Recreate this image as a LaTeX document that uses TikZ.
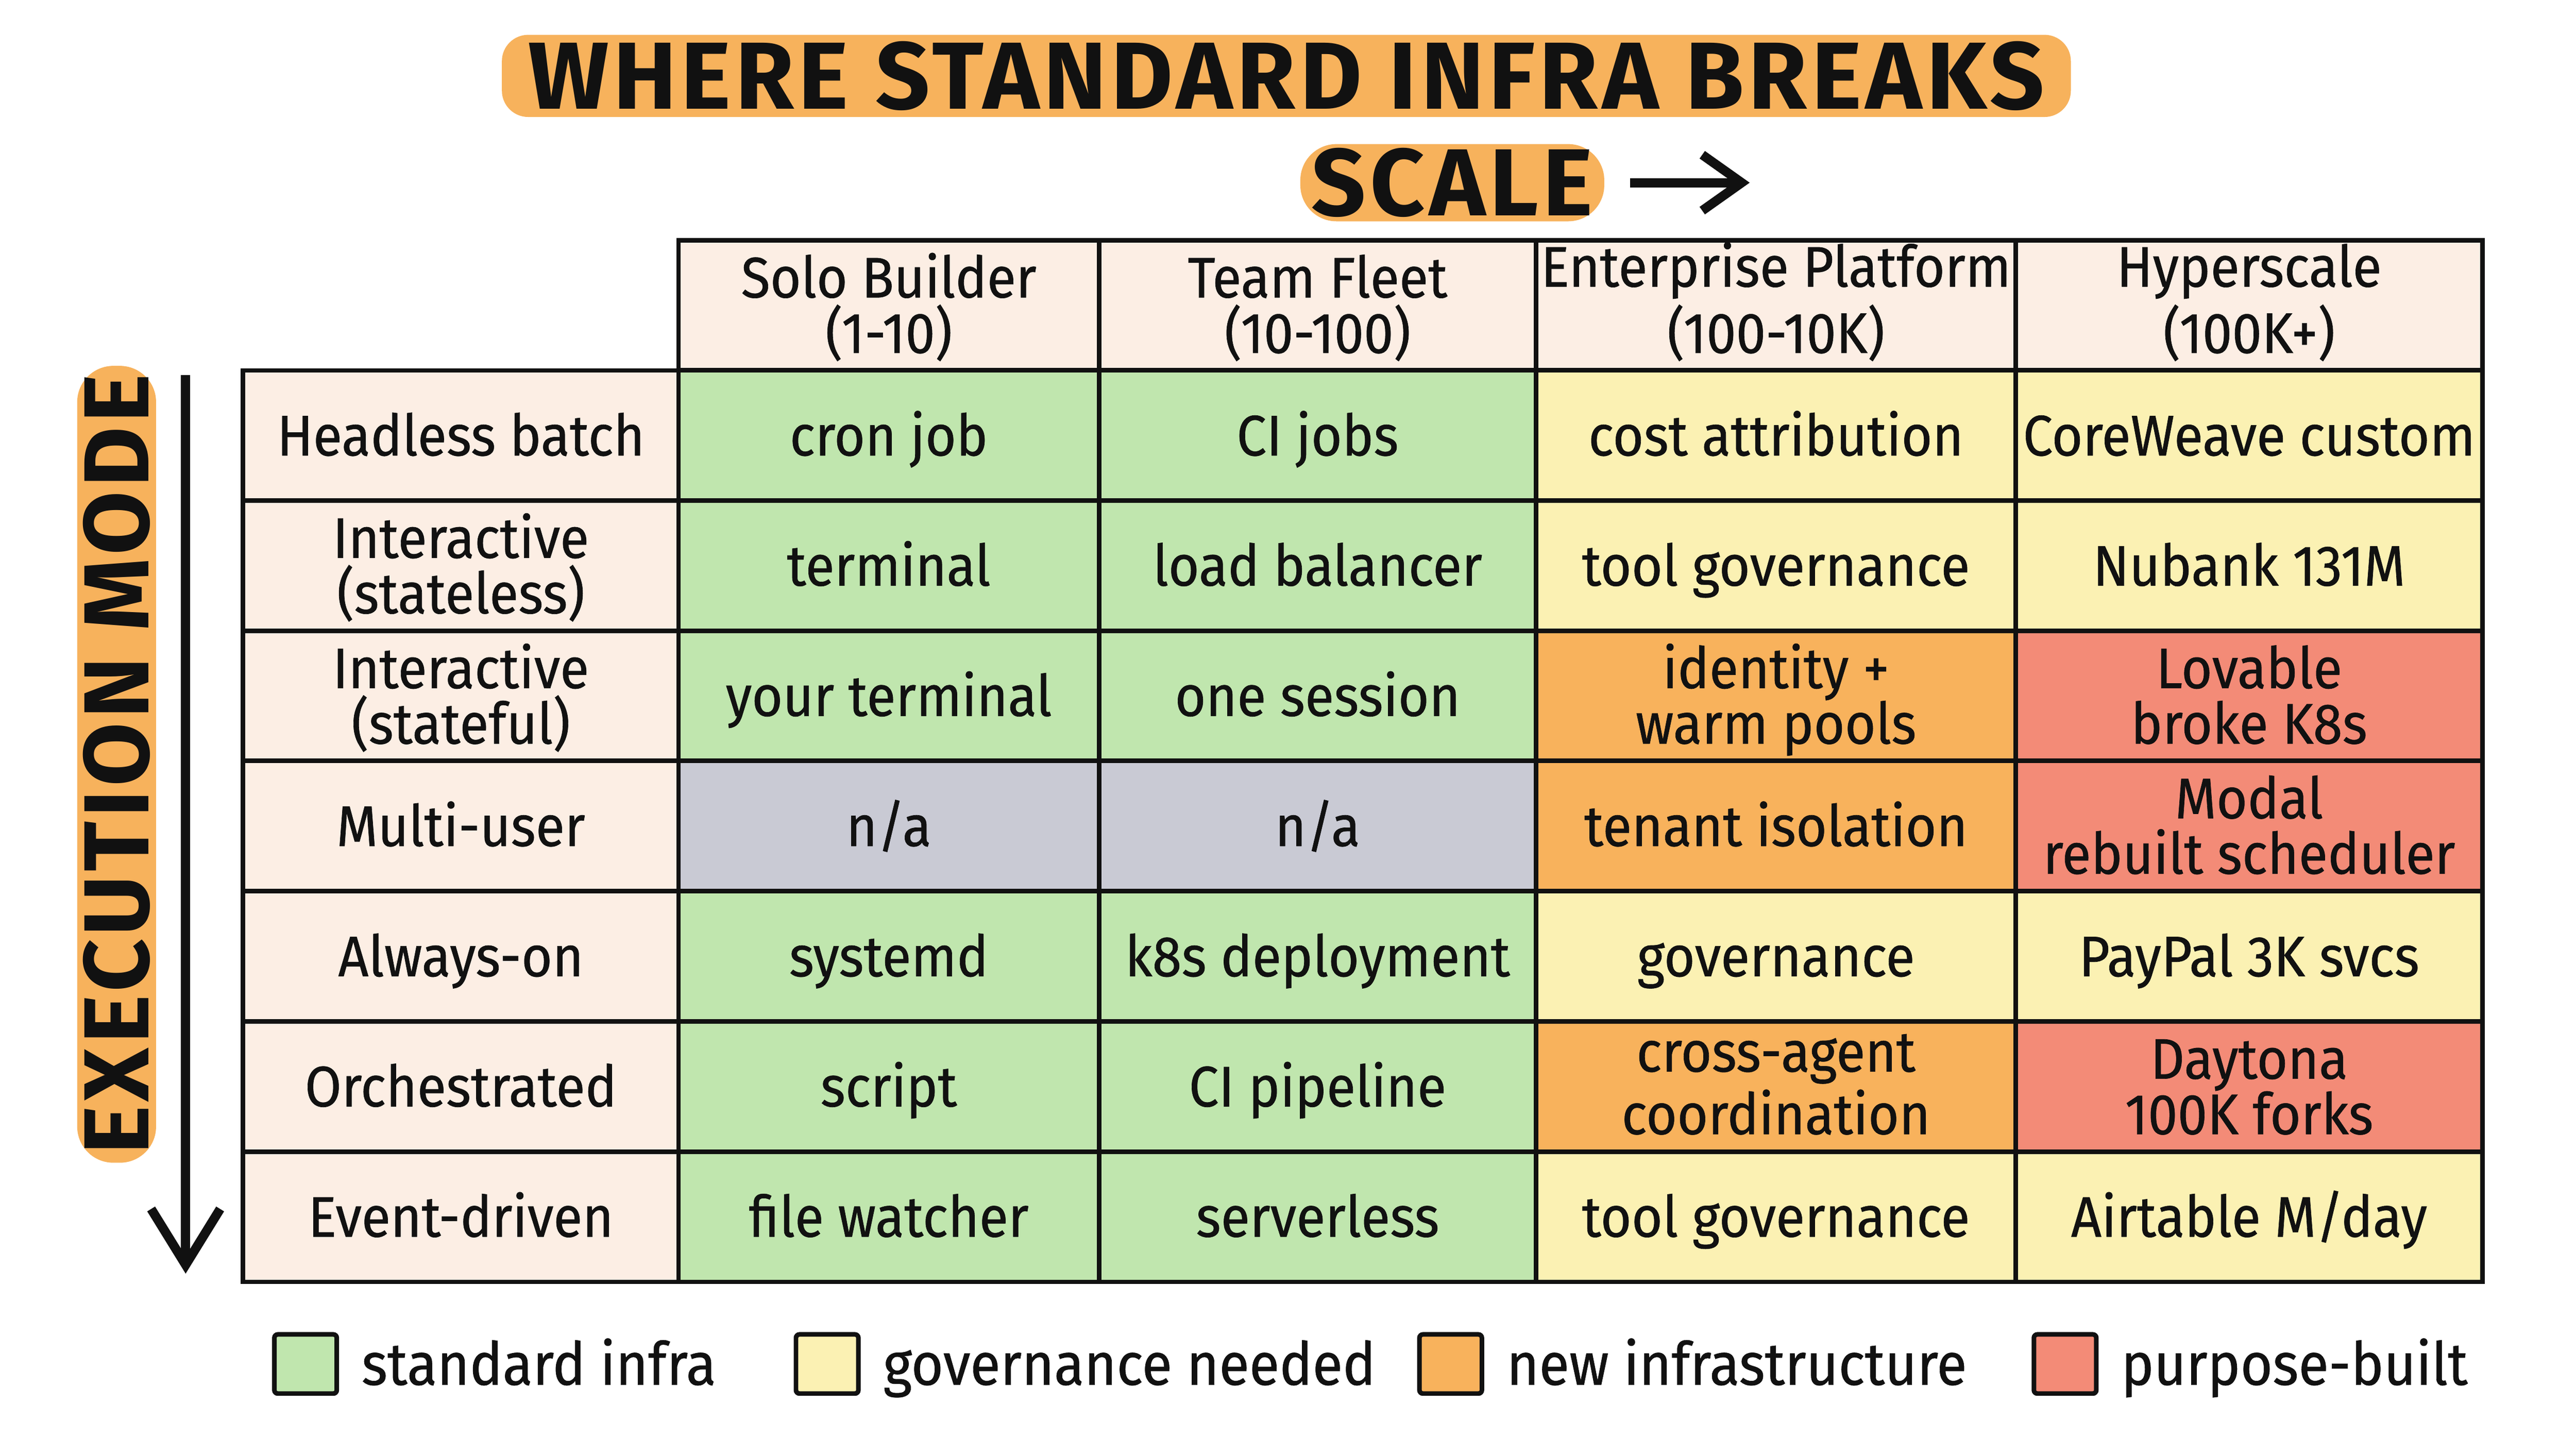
\documentclass[tikz,border=0pt]{standalone}
\usepackage{fontspec}
\setmainfont{Fira Sans}[FakeStretch=0.93, FakeBold=0.6]
\newfontfamily\bannerfont{Fira Sans}[LetterSpace=4.5]
\usepackage{tikz}
\usetikzlibrary{positioning, arrows.meta}

\definecolor{ink}{HTML}{111111}
\definecolor{peach}{HTML}{FCEEE4}
\definecolor{stdgreen}{HTML}{C0E6AE}
\definecolor{govyellow}{HTML}{FBF1B3}
\definecolor{neworange}{HTML}{F8B25C}
\definecolor{purpred}{HTML}{F38B77}
\definecolor{nagray}{HTML}{C9CAD4}
\definecolor{hl}{HTML}{F7B25C}

\newcommand{\cellfont}{\fontsize{9.9}{9.6}\selectfont}
\newcommand{\legfont}{\fontsize{10.3}{12}\selectfont}

\tikzset{
    cell/.style={draw=ink, line width=0.8pt, minimum height=0.7925cm, inner sep=0pt, align=center, font=\cellfont, text=ink, text height=6.9pt, text depth=0pt},
    twoline/.style={text height=16.5pt},
    mode/.style={minimum width=2.65cm},
    solo/.style={minimum width=2.56cm},
    team/.style={minimum width=2.66cm},
    ent/.style={minimum width=2.92cm},
    hyper/.style={minimum width=2.84cm},
    head/.style={cell, fill=peach},
    std/.style={cell, fill=stdgreen},
    gov/.style={cell, fill=govyellow},
    newinf/.style={cell, fill=neworange},
    purp/.style={cell, fill=purpred},
    na/.style={cell, fill=nagray},
    banner/.style={fill=hl, rounded corners=1.6mm, inner sep=0pt, text=ink, font=\bannerfont\bfseries\fontsize{16.5}{18}\selectfont},
    legbox/.style={draw=ink, line width=0.8pt, rounded corners=0.6pt, minimum width=0.38cm, minimum height=0.36cm, inner sep=0pt},
    legtext/.style={font=\legfont, text=ink, inner sep=0pt, anchor=west, text height=7.2pt, text depth=0pt},
    bigarrow/.style={line width=1.6pt, draw=ink}
}

\begin{document}
\begin{tikzpicture}
    \useasboundingbox (0, 0) rectangle (15.68, 8.752);
    \fill[white] (0, 0) rectangle (15.68, 8.752);

    % title and axis banners
    \node[banner, minimum width=9.55cm, minimum height=0.5cm] (title) at (7.83, 8.29) {WHERE STANDARD INFRA BREAKS};
    \node[banner, rounded corners=2.2mm, minimum width=1.85cm, minimum height=0.47cm] (scale) at (8.84, 7.64) {SCALE};
    \node[banner, rounded corners=2.2mm, rotate=90, minimum width=4.85cm, minimum height=0.48cm,
          font=\bannerfont\bfseries\fontsize{16}{18}\selectfont] (axis) at (0.71, 4.1) {EXECUTION MODE};

    \coordinate (scaleEnd) at (10.65, 7.64);
    \coordinate (axisTop) at (1.13, 6.47);
    \coordinate (axisEnd) at (1.13, 1.0);

    \draw [bigarrow, -{Straight Barb[length=2.4mm, width=3.4mm]}, shorten <=1.5mm] (scale.east) -- (scaleEnd);
    \draw [bigarrow, -{Straight Barb[length=3.4mm, width=4.2mm]}] (axisTop) -- (axisEnd);

    % header row
    \node[head, twoline, solo] (hSolo) at (5.41, 6.894) {Solo Builder\\(1-10)};
    \node[head, twoline, team] (hTeam) at (8.02, 6.894) {Team Fleet\\(10-100)};
    \node[head, twoline, ent] (hEnt) at (10.81, 6.894) {Enterprise Platform\\(100-10K)};
    \node[head, twoline, hyper] (hHyper) at (13.69, 6.894) {Hyperscale\\(100K+)};

    % headless batch
    \node[head, mode] (batch) at (2.805, 6.101) {Headless batch};
    \node[std, solo] (batchSolo) at (5.41, 6.101) {cron job};
    \node[std, team] (batchTeam) at (8.02, 6.101) {CI jobs};
    \node[gov, ent] (batchEnt) at (10.81, 6.101) {cost attribution};
    \node[gov, hyper] (batchHyper) at (13.69, 6.101) {CoreWeave custom};

    % interactive, stateless
    \node[head, twoline, mode] (stateless) at (2.805, 5.309) {Interactive\\(stateless)};
    \node[std, solo] (statelessSolo) at (5.41, 5.309) {terminal};
    \node[std, team] (statelessTeam) at (8.02, 5.309) {load balancer};
    \node[gov, ent] (statelessEnt) at (10.81, 5.309) {tool governance};
    \node[gov, hyper] (statelessHyper) at (13.69, 5.309) {Nubank 131M};

    % interactive, stateful
    \node[head, twoline, mode] (stateful) at (2.805, 4.516) {Interactive\\(stateful)};
    \node[std, solo] (statefulSolo) at (5.41, 4.516) {your terminal};
    \node[std, team] (statefulTeam) at (8.02, 4.516) {one session};
    \node[newinf, twoline, ent] (statefulEnt) at (10.81, 4.516) {identity +\\warm pools};
    \node[purp, twoline, hyper] (statefulHyper) at (13.69, 4.516) {Lovable\\broke K8s};

    % multi-user
    \node[head, mode] (multi) at (2.805, 3.724) {Multi-user};
    \node[na, solo] (multiSolo) at (5.41, 3.724) {n/a};
    \node[na, team] (multiTeam) at (8.02, 3.724) {n/a};
    \node[newinf, ent] (multiEnt) at (10.81, 3.724) {tenant isolation};
    \node[purp, twoline, hyper] (multiHyper) at (13.69, 3.724) {Modal\\rebuilt scheduler};

    % always-on
    \node[head, mode] (always) at (2.805, 2.931) {Always-on};
    \node[std, solo] (alwaysSolo) at (5.41, 2.931) {systemd};
    \node[std, team] (alwaysTeam) at (8.02, 2.931) {k8s deployment};
    \node[gov, ent] (alwaysEnt) at (10.81, 2.931) {governance};
    \node[gov, hyper] (alwaysHyper) at (13.69, 2.931) {PayPal 3K svcs};

    % orchestrated
    \node[head, mode] (orch) at (2.805, 2.139) {Orchestrated};
    \node[std, solo] (orchSolo) at (5.41, 2.139) {script};
    \node[std, team] (orchTeam) at (8.02, 2.139) {CI pipeline};
    \node[newinf, twoline, ent] (orchEnt) at (10.81, 2.139) {cross-agent\\coordination};
    \node[purp, twoline, hyper] (orchHyper) at (13.69, 2.139) {Daytona\\100K forks};

    % event-driven
    \node[head, mode] (event) at (2.805, 1.346) {Event-driven};
    \node[std, solo] (eventSolo) at (5.41, 1.346) {file watcher};
    \node[std, team] (eventTeam) at (8.02, 1.346) {serverless};
    \node[gov, ent] (eventEnt) at (10.81, 1.346) {tool governance};
    \node[gov, hyper] (eventHyper) at (13.69, 1.346) {Airtable M/day};

    % legend
    \node[legbox, fill=stdgreen] (lStd) at (1.86, 0.45) {};
    \node[legtext, right=0.13cm of lStd] (tStd) {standard infra};
    \node[legbox, fill=govyellow] (lGov) at (5.035, 0.45) {};
    \node[legtext, right=0.13cm of lGov] (tGov) {governance needed};
    \node[legbox, fill=neworange] (lNew) at (8.83, 0.45) {};
    \node[legtext, right=0.13cm of lNew] (tNew) {new infrastructure};
    \node[legbox, fill=purpred] (lPurp) at (12.57, 0.45) {};
    \node[legtext, right=0.13cm of lPurp] (tPurp) {purpose-built};
\end{tikzpicture}
\end{document}
